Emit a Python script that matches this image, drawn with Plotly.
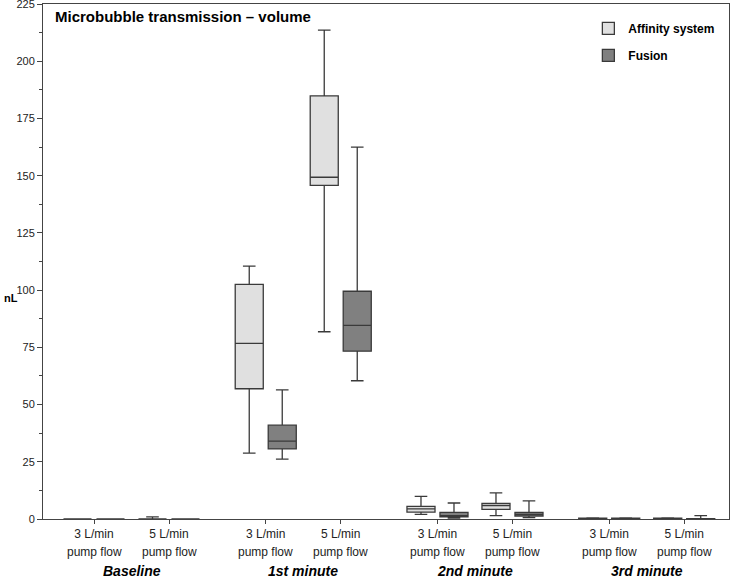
import plotly.graph_objects as go

# ---- data ----
groups = ["Baseline", "1st minute", "2nd minute", "3rd minute"]
flows = ["3 L/min", "5 L/min"]
flow_sub = "pump flow"

# order: Baseline 3, Baseline 5, 1st 3, 1st 5, 2nd 3, 2nd 5, 3rd 3, 3rd 5
aff_low = [0, 0, 28.8, 81.8, 2.0, 1.5, 0.0, 0.0]
aff_q1 = [0, 0, 56.9, 145.8, 3.0, 4.2, 0.1, 0.1]
aff_med = [0, 0, 76.7, 149.3, 4.4, 5.9, 0.2, 0.2]
aff_q3 = [0, 0, 102.5, 184.9, 5.5, 6.8, 0.4, 0.4]
aff_up = [0, 0.9, 110.5, 213.6, 9.9, 11.4, 0.5, 0.5]

fus_low = [0, 0, 26.2, 60.4, 0.4, 0.6, 0.0, 0.0]
fus_q1 = [0, 0, 30.6, 73.3, 0.9, 1.3, 0.1, 0.05]
fus_med = [0, 0, 34.0, 84.6, 1.5, 2.0, 0.2, 0.1]
fus_q3 = [0, 0, 41.0, 99.5, 2.9, 2.9, 0.4, 0.2]
fus_up = [0, 0, 56.4, 162.5, 7.0, 7.9, 0.5, 1.5]

# ---- layout helpers ----
GROUP_STEP = 2.29
xpos = [gi * GROUP_STEP + fi for gi in range(len(groups)) for fi in range(len(flows))]
xlabels = [f for _ in groups for f in flows]

FONT = "Liberation Sans, Arial, sans-serif"
LINE = "#3a3a3a"

fig = go.Figure()
fig.add_trace(go.Box(
    name="Affinity system", x=xpos, q1=aff_q1, median=aff_med, q3=aff_q3,
    lowerfence=aff_low, upperfence=aff_up,
    fillcolor="#e0e0e0", line=dict(color=LINE, width=1.3),
    whiskerwidth=0.45, legendgroup="a",
))
fig.add_trace(go.Box(
    name="Fusion", x=xpos, q1=fus_q1, median=fus_med, q3=fus_q3,
    lowerfence=fus_low, upperfence=fus_up,
    fillcolor="#808080", line=dict(color=LINE, width=1.3),
    whiskerwidth=0.45, legendgroup="b",
))

annotations = []
for x in xpos:
    annotations.append(dict(
        x=x, y=0, xref="x", yref="paper", text=flow_sub, showarrow=False,
        yanchor="middle", yshift=-33, font=dict(family=FONT, size=12, color="#222"),
    ))
for gi, g in enumerate(groups):
    annotations.append(dict(
        x=gi * GROUP_STEP + 0.5, y=0, xref="x", yref="paper",
        text=f"<b><i>{g}</i></b>", showarrow=False, yanchor="middle", yshift=-51.5,
        font=dict(family=FONT, size=14, color="#000"),
    ))
annotations.append(dict(
    x=0.015, y=0.997, xref="paper", yref="paper", xanchor="left", yanchor="top",
    text="<b>Microbubble transmission – volume</b>", showarrow=False,
    font=dict(family=FONT, size=15, color="#000"),
))
annotations.append(dict(
    x=-41 / 686, y=0.43, xref="paper", yref="paper", xanchor="left", text="<b>nL</b>",
    showarrow=False, font=dict(family=FONT, size=11, color="#000"),
))

fig.update_layout(
    width=733, height=577,
    margin=dict(l=43, r=4, t=4, b=58, autoexpand=False),
    paper_bgcolor="white", plot_bgcolor="white",
    boxmode="group", boxgap=0.12, boxgroupgap=0.15,
    font=dict(family=FONT, size=11, color="#222"),
    showlegend=True,
    legend=dict(
        x=0.795, y=0.981, xanchor="left", yanchor="top",
        font=dict(family=FONT, size=12, color="#000", weight="bold"),
        bgcolor="rgba(0,0,0,0)", tracegroupgap=8, traceorder="grouped",
    ),
    annotations=annotations,
)
fig.update_xaxes(
    range=[-0.68, 8.467], tickmode="array", tickvals=xpos, ticktext=xlabels,
    ticks="outside", ticklen=4, tickcolor="#444", showgrid=False, zeroline=False,
    showline=True, linecolor="#444", linewidth=1, mirror=True, automargin=False,
    tickfont=dict(family=FONT, size=12, color="#222"),
)
fig.update_yaxes(
    range=[0, 225], dtick=25, ticks="outside", ticklen=5, tickcolor="#444",
    minor=dict(dtick=12.5, ticks="outside", ticklen=3, tickcolor="#444"),
    showgrid=False, zeroline=False, showline=True, linecolor="#444", linewidth=1,
    mirror=True, automargin=False, ticklabeloverflow="allow",
    tickfont=dict(family=FONT, size=11, color="#222"),
)

fig.write_html(
    "out.html",
    config={"displayModeBar": False},
    post_script="document.body.style.margin='0px';document.body.style.overflow='hidden';",
)
